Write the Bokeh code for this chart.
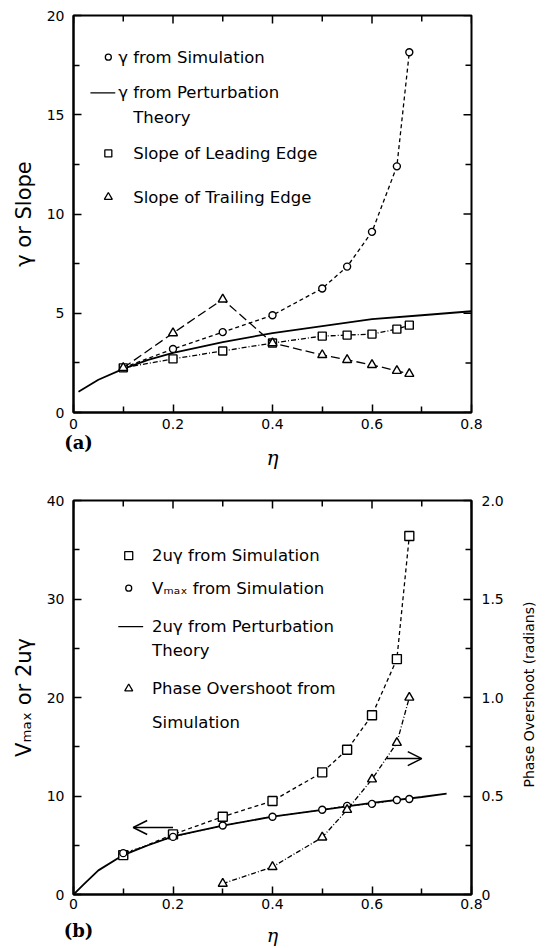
import math
from bokeh.plotting import figure
from bokeh.models import LinearAxis, Range1d, FixedTicker, Label, Arrow, OpenHead
from bokeh.layouts import column
from bokeh.embed import file_html
from bokeh.resources import INLINE

# ---------------- data (panel a) ----------------
eta_sim = [0.1, 0.2, 0.3, 0.4, 0.5, 0.55, 0.6, 0.65, 0.675]
gamma_sim = [2.25, 3.2, 4.05, 4.9, 6.25, 7.35, 9.1, 12.4, 18.15]
slope_leading = [2.25, 2.7, 3.1, 3.5, 3.85, 3.9, 3.95, 4.2, 4.4]
slope_trailing = [2.25, 4.0, 5.7, 3.5, 2.9, 2.65, 2.4, 2.1, 1.95]
eta_theory_a = [0.01, 0.05, 0.1, 0.15, 0.2, 0.3, 0.4, 0.5, 0.6, 0.7, 0.8]
gamma_theory = [1.05, 1.65, 2.2, 2.65, 3.0, 3.55, 4.0, 4.35, 4.7, 4.9, 5.1]

# ---------------- data (panel b) ----------------
u2gamma_sim = [4.0, 6.1, 7.9, 9.5, 12.4, 14.7, 18.2, 23.9, 36.4]
vmax_sim = [4.2, 5.85, 7.0, 7.9, 8.6, 9.0, 9.2, 9.6, 9.7]
eta_theory_b = [0.0, 0.02, 0.05, 0.1, 0.15, 0.2, 0.3, 0.4, 0.5, 0.6, 0.7, 0.75]
u2gamma_theory = [0.0, 1.0, 2.45, 4.0, 5.0, 5.9, 7.0, 7.9, 8.6, 9.3, 9.9, 10.25]
eta_phase = [0.3, 0.4, 0.5, 0.55, 0.6, 0.65, 0.675]
phase_overshoot = [0.055, 0.14, 0.29, 0.43, 0.585, 0.77, 1.0]

x_ticks = [0, 0.2, 0.4, 0.6, 0.8]
x_minor = [0.1, 0.3, 0.5, 0.7]
x_labels = {0: "0", 0.2: "0.2", 0.4: "0.4", 0.6: "0.6", 0.8: "0.8"}
ya_ticks = [0, 5, 10, 15, 20]
ya_minor = [2.5, 7.5, 12.5, 17.5]
yb_ticks = [0, 10, 20, 30, 40]
yb_minor = [5, 15, 25, 35]
yr_ticks = [0, 0.5, 1.0, 1.5, 2.0]
yr_minor = [0.25, 0.75, 1.25, 1.75]
yr_labels = {0: "0", 0.5: "0.5", 1: "1.0", 1.5: "1.5", 2: "2.0"}

# where the texts outside the frames start / are centred
panel_tag_at = 0.01          # "(a)", "(b)" under the origin
eta_label_at = 0.4           # "η" under 0.4
phase_title_from = 0.543     # right title starts here (radians) and reads upward

FONT = "DejaVu Sans"
LEG_SIZE = "16.5px"


def style_axis(ax, ticks, minor, overrides=None):
    ax.ticker = FixedTicker(ticks=ticks, minor_ticks=minor)
    ax.axis_line_width = 2
    ax.axis_line_color = "black"
    ax.major_tick_in = 8
    ax.major_tick_out = 0
    ax.minor_tick_in = 6
    ax.minor_tick_out = 0
    ax.major_tick_line_width = 1.5
    ax.minor_tick_line_width = 1.5
    ax.major_label_text_font = FONT
    ax.major_label_text_font_size = "14px"
    ax.major_label_text_color = "black"
    ax.axis_label_text_font = FONT
    ax.axis_label_text_font_style = "normal"
    ax.axis_label_text_color = "black"
    if overrides:
        ax.major_label_overrides = overrides


def text_axis(p, side, at, text, font, font_style, size, standoff,
              orientation=None, y_range_name=None):
    """An axis used only to write one text outside the frame."""
    kw = {"ticker": FixedTicker(ticks=[at], minor_ticks=[])}
    if y_range_name:
        kw["y_range_name"] = y_range_name
    ax = LinearAxis(**kw)
    ax.axis_line_color = None
    ax.major_tick_line_color = None
    ax.minor_tick_line_color = None
    ax.major_tick_in = 0
    ax.major_tick_out = 0
    ax.minor_tick_in = 0
    ax.minor_tick_out = 0
    ax.major_label_overrides = {at: text}
    ax.major_label_text_font = font
    ax.major_label_text_font_style = font_style
    ax.major_label_text_font_size = size
    ax.major_label_text_color = "black"
    ax.major_label_standoff = standoff
    if orientation is not None:
        ax.major_label_orientation = orientation
    p.add_layout(ax, side)


def mirror_ticks_top(p, ymax, ticks, minor):
    p.ray(x=ticks, y=[ymax] * len(ticks), length=8, angle=-math.pi / 2,
          length_units="screen", line_color="black", line_width=1.5)
    p.ray(x=minor, y=[ymax] * len(minor), length=6, angle=-math.pi / 2,
          length_units="screen", line_color="black", line_width=1.5)


def mirror_ticks_right(p, xmax, ticks, minor):
    p.ray(x=[xmax] * len(ticks), y=ticks, length=8, angle=math.pi,
          length_units="screen", line_color="black", line_width=1.5)
    p.ray(x=[xmax] * len(minor), y=minor, length=6, angle=math.pi,
          length_units="screen", line_color="black", line_width=1.5)


def make_fig(height, ymax, top, bottom, right):
    p = figure(width=551, height=height, x_range=Range1d(0, 0.8),
               y_range=Range1d(0, ymax), output_backend="svg",
               toolbar_location=None, x_axis_type=None, y_axis_type=None,
               min_border_left=73, min_border_right=right,
               min_border_top=top, min_border_bottom=bottom)
    p.outline_line_color = "black"
    p.outline_line_width = 2
    p.background_fill_color = "white"
    p.border_fill_color = "white"
    return p


def legend_text(p, x, y, text):
    p.add_layout(Label(x=x, y=y, text=text, text_font=FONT,
                       text_font_size=LEG_SIZE, text_baseline="middle",
                       text_color="black"))


# ================= panel (a) =================
p1 = make_fig(476, 20, 15, 64, 80)

xb = LinearAxis()
style_axis(xb, x_ticks, x_minor, overrides=x_labels)
xb.major_label_standoff = 6
p1.add_layout(xb, "below")
text_axis(p1, "below", panel_tag_at, "(a)", "DejaVu Serif", "bold", "18px", 0)
text_axis(p1, "below", eta_label_at, "η", "DejaVu Serif", "italic", "20px", -10)

yl = LinearAxis(axis_label="γ or Slope")
style_axis(yl, ya_ticks, ya_minor)
yl.major_label_standoff = 9
yl.axis_label_text_font_size = "21px"
yl.axis_label_standoff = 8
p1.add_layout(yl, "left")

mirror_ticks_top(p1, 20, x_ticks, x_minor)
mirror_ticks_right(p1, 0.8, ya_ticks, ya_minor)

# theory line
p1.line(eta_theory_a, gamma_theory, line_color="black", line_width=1.8)
# gamma simulation
p1.line(eta_sim, gamma_sim, line_color="black", line_width=1.3, line_dash="4 3")
p1.scatter(eta_sim, gamma_sim, marker="circle", size=7, fill_color="white",
           line_color="black", line_width=1.4)
# leading edge
p1.line(eta_sim, slope_leading, line_color="black", line_width=1.3, line_dash="5 2 1 2")
p1.scatter(eta_sim, slope_leading, marker="square", size=8, fill_color="white",
           line_color="black", line_width=1.4)
# trailing edge
p1.line(eta_sim, slope_trailing, line_color="black", line_width=1.3, line_dash="9 4")
p1.scatter(eta_sim, slope_trailing, marker="triangle", size=9, fill_color="white",
           line_color="black", line_width=1.4)

# legend (a)
lx_mark_a = 0.07
lx_text_a1 = 0.09
lx_text_a2 = 0.12
p1.scatter([lx_mark_a], [17.9], marker="circle", size=6, fill_color="white",
           line_color="black", line_width=1.3)
legend_text(p1, lx_text_a1, 17.9, "γ from Simulation")
p1.line([0.034, 0.084], [16.1, 16.1], line_color="black", line_width=1.3)
legend_text(p1, lx_text_a1, 16.1, "γ from Perturbation")
legend_text(p1, lx_text_a2, 14.85, "Theory")
p1.scatter([lx_mark_a], [13.05], marker="square", size=7, fill_color="white",
           line_color="black", line_width=1.3)
legend_text(p1, lx_text_a2, 13.05, "Slope of Leading Edge")
p1.scatter([lx_mark_a], [10.85], marker="triangle", size=8, fill_color="white",
           line_color="black", line_width=1.3)
legend_text(p1, lx_text_a2, 10.85, "Slope of Trailing Edge")

# ================= panel (b) =================
p2 = make_fig(472, 40, 24, 54, 79)
p2.extra_y_ranges = {"phase": Range1d(0, 2)}

xb2 = LinearAxis()
style_axis(xb2, x_ticks, x_minor, overrides=x_labels)
xb2.major_label_standoff = 4
p2.add_layout(xb2, "below")
text_axis(p2, "below", panel_tag_at, "(b)", "DejaVu Serif", "bold", "18px", 8)
text_axis(p2, "below", eta_label_at, "η", "DejaVu Serif", "italic", "19px", -20)

yl2 = LinearAxis(axis_label="Vₘₐₓ or 2uγ")
style_axis(yl2, yb_ticks, yb_minor)
yl2.major_label_standoff = 9
yl2.axis_label_text_font_size = "21px"
yl2.axis_label_standoff = 8
p2.add_layout(yl2, "left")

mirror_ticks_top(p2, 40, x_ticks, x_minor)

yr2 = LinearAxis(y_range_name="phase")
style_axis(yr2, yr_ticks, yr_minor, overrides=yr_labels)
yr2.major_label_standoff = 10
p2.add_layout(yr2, "right")
# right-hand title, reading bottom-to-top as in the reference
text_axis(p2, "right", phase_title_from, "Phase Overshoot (radians)", FONT,
          "normal", "14px", 23, orientation=math.pi / 2, y_range_name="phase")

p2.line(eta_theory_b, u2gamma_theory, line_color="black", line_width=1.8)
p2.line(eta_sim, u2gamma_sim, line_color="black", line_width=1.3, line_dash="4 3")
p2.scatter(eta_sim, u2gamma_sim, marker="square", size=9, fill_color="white",
           line_color="black", line_width=1.4)
p2.line(eta_sim, vmax_sim, line_color="black", line_width=1.0, line_dash="2 2")
p2.scatter(eta_sim, vmax_sim, marker="circle", size=7, fill_color="white",
           line_color="black", line_width=1.4)
p2.line(eta_phase, phase_overshoot, y_range_name="phase", line_color="black",
        line_width=1.3, line_dash="5 2 1 2")
p2.scatter(eta_phase, phase_overshoot, y_range_name="phase", marker="triangle",
           size=9, fill_color="white", line_color="black", line_width=1.4)

# arrows pointing to the relevant axes
p2.add_layout(Arrow(end=OpenHead(size=14, line_width=1.5, line_color="black"),
                    x_start=0.2, y_start=6.8, x_end=0.12, y_end=6.8,
                    line_width=1.5, line_color="black"))
p2.add_layout(Arrow(end=OpenHead(size=14, line_width=1.5, line_color="black"),
                    x_start=0.63, y_start=13.8, x_end=0.70, y_end=13.8,
                    line_width=1.5, line_color="black"))

# legend (b)
lx_mark_b = 0.111
lx_text_b = 0.158
p2.scatter([lx_mark_b], [34.4], marker="square", size=8, fill_color="white",
           line_color="black", line_width=1.3)
legend_text(p2, lx_text_b, 34.4, "2uγ from Simulation")
p2.scatter([lx_mark_b], [31.1], marker="circle", size=6, fill_color="white",
           line_color="black", line_width=1.3)
legend_text(p2, lx_text_b, 31.1, "Vₘₐₓ from Simulation")
p2.line([0.09, 0.14], [27.2, 27.2], line_color="black", line_width=1.3)
legend_text(p2, lx_text_b, 27.2, "2uγ from Perturbation")
legend_text(p2, lx_text_b, 24.8, "Theory")
p2.scatter([lx_mark_b], [20.9], marker="triangle", size=8, fill_color="white",
           line_color="black", line_width=1.3)
legend_text(p2, lx_text_b, 20.9, "Phase Overshoot from")
legend_text(p2, lx_text_b, 17.5, "Simulation")

layout = column(p1, p2, spacing=0)
open("out.html", "w").write(file_html(layout, INLINE))
